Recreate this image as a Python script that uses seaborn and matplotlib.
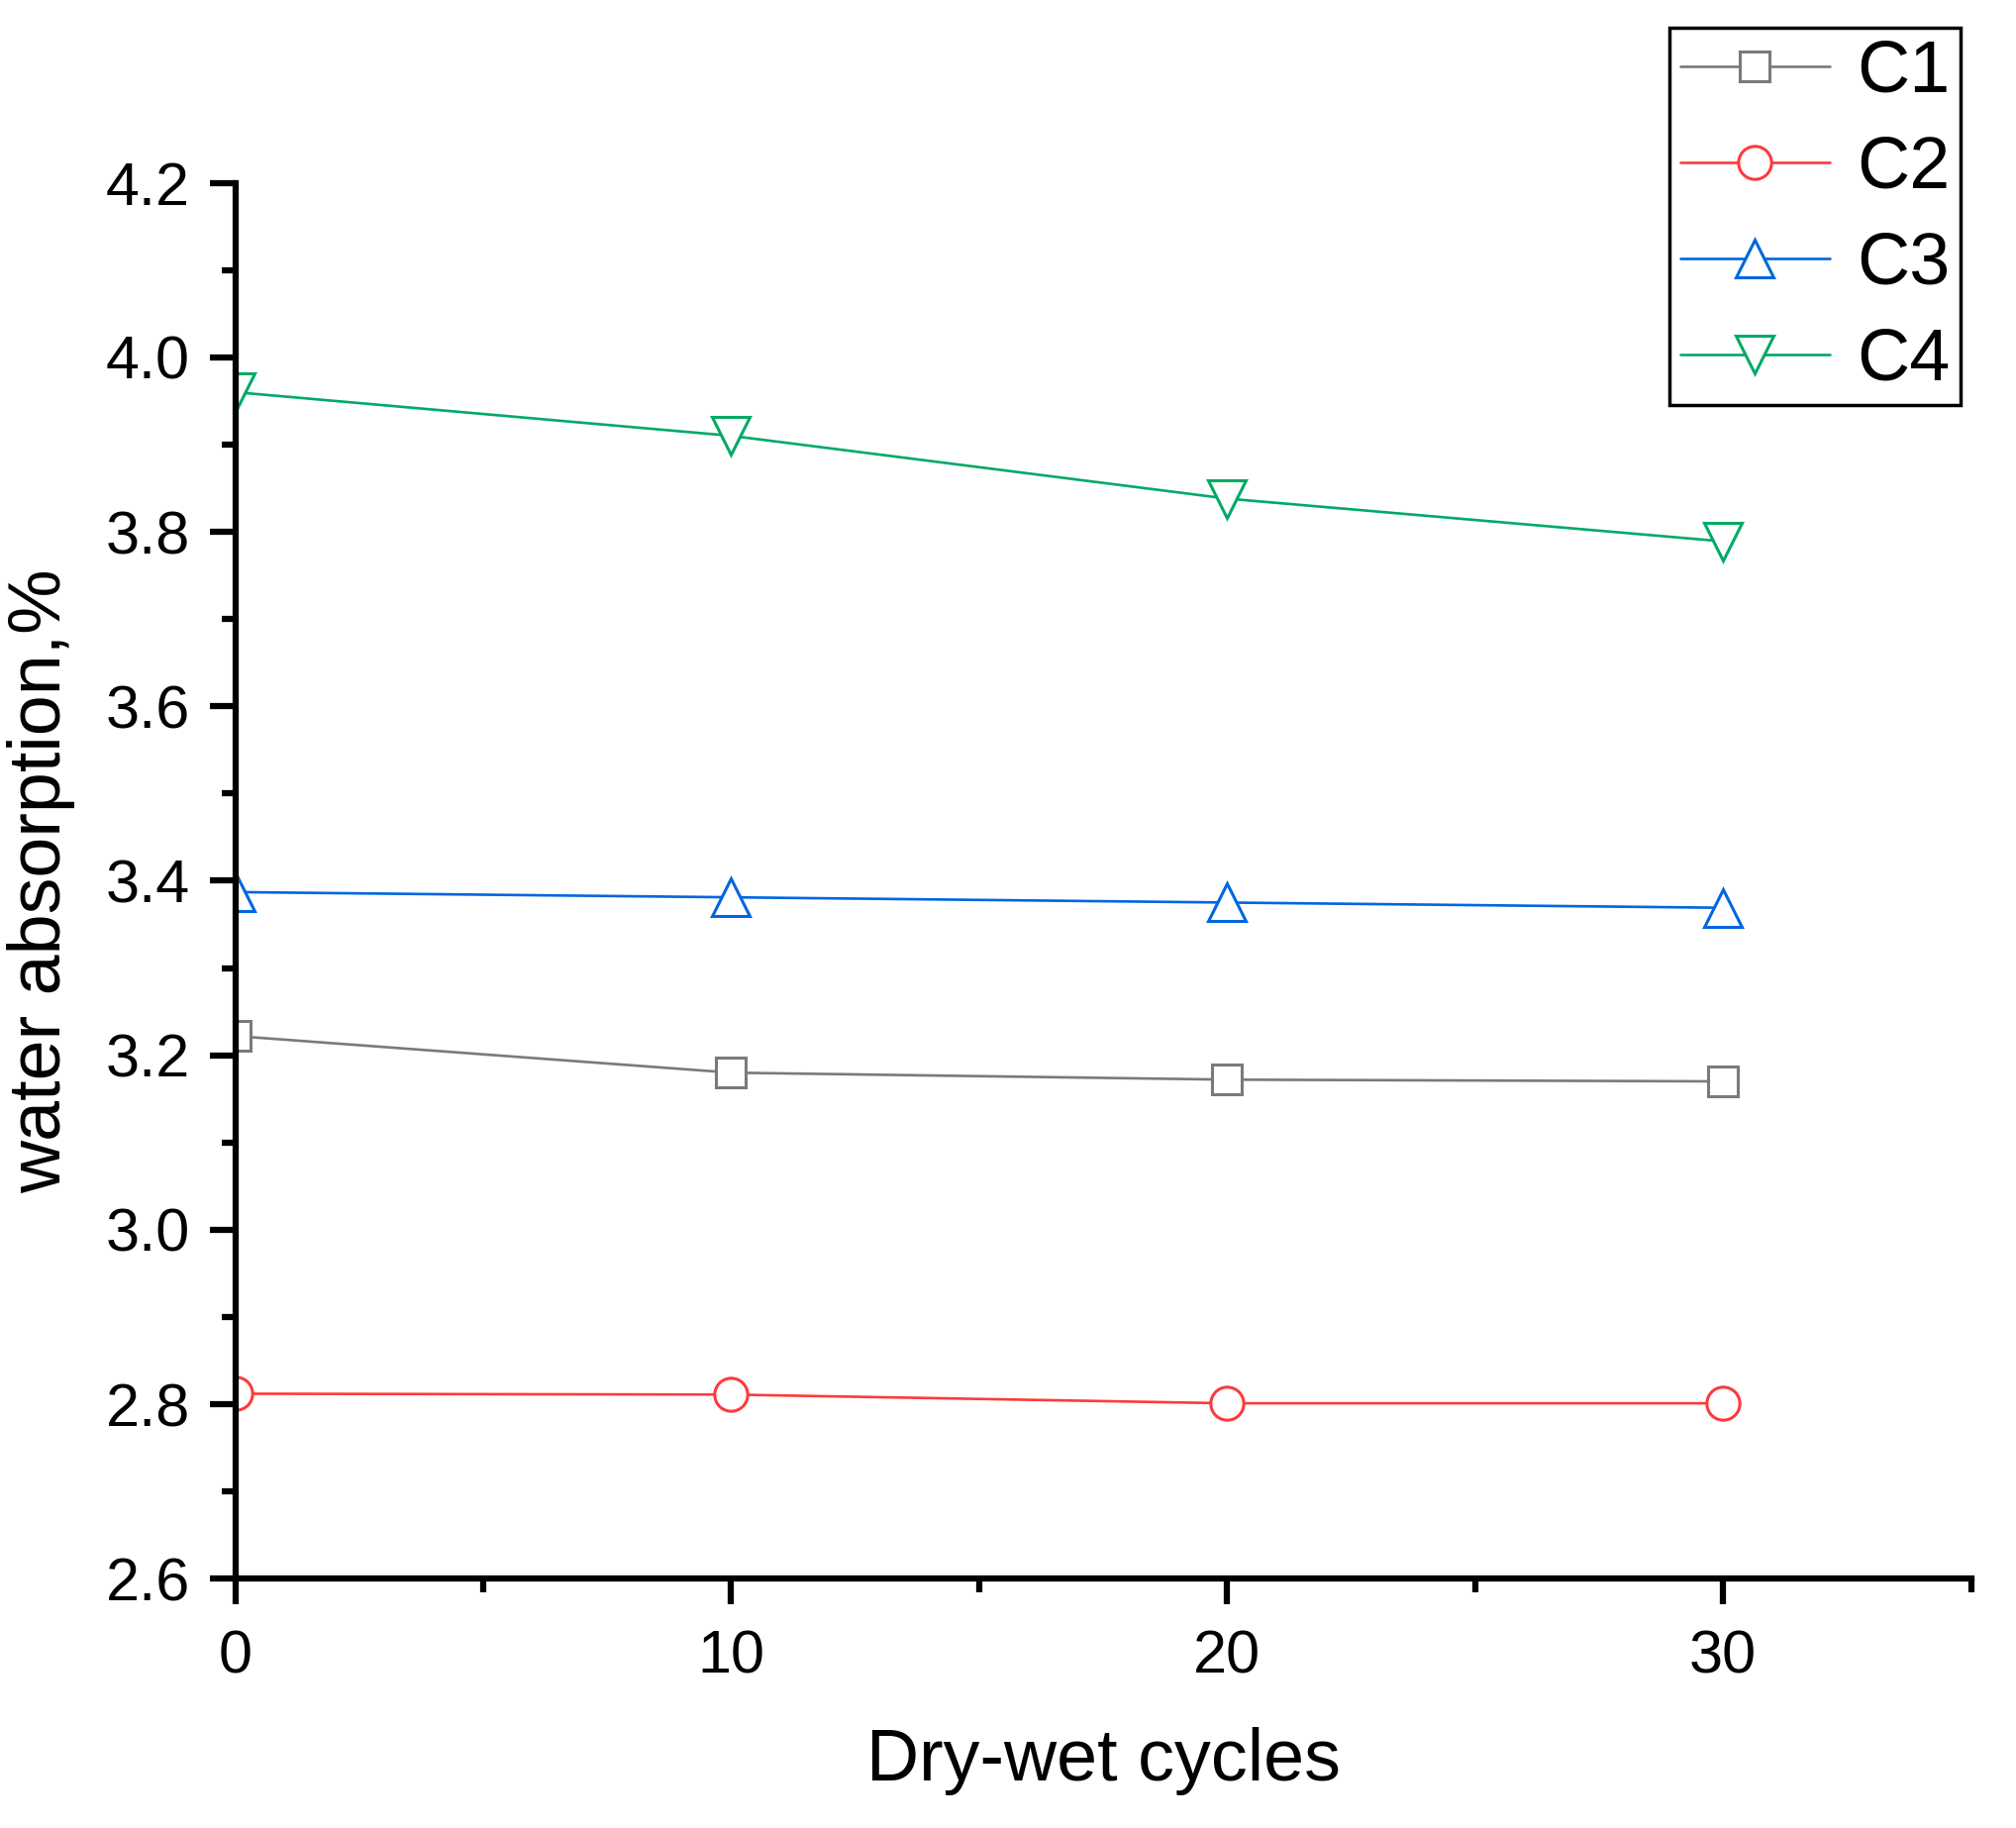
import matplotlib
matplotlib.use("Agg")
import matplotlib.pyplot as plt
import seaborn as sns
import pandas as pd
from matplotlib.ticker import MultipleLocator

cycles = [0, 10, 20, 30]
c1 = [3.222, 3.180, 3.172, 3.170]
c2 = [2.812, 2.811, 2.801, 2.801]
c3 = [3.387, 3.381, 3.375, 3.369]
c4 = [3.960, 3.910, 3.838, 3.789]
names = ["C1", "C2", "C3", "C4"]
colors = ["#7a7a7a", "#ff3a3a", "#0066e0", "#00aa66"]
markers = ["s", "o", "^", "v"]
msizes = [22, 24, 27, 27]

sns.set_style("ticks")
plt.rcParams['font.family'] = ['Liberation Sans', 'DejaVu Sans']
plt.rcParams['text.color'] = 'black'
plt.rcParams['axes.labelcolor'] = 'black'
plt.rcParams['xtick.color'] = 'black'
plt.rcParams['ytick.color'] = 'black'

df = pd.DataFrame({
    "cycles": cycles * 4,
    "value": c1 + c2 + c3 + c4,
    "series": sum([[n] * len(cycles) for n in names], []),
})

fig = plt.figure(figsize=(20.36, 18.46), dpi=100)
ax = fig.add_axes([0.1167, 0.1364, 0.861, 0.7636])

for n, col, mk, ms in zip(names, colors, markers, msizes):
    sub = df[df["series"] == n]
    sns.lineplot(data=sub, x="cycles", y="value", ax=ax, color=col, marker=mk,
                 markersize=ms, markerfacecolor="white",
                 markeredgecolor=col, markeredgewidth=2.2, linewidth=1.9,
                 label=n, clip_on=True)

ax.set_xlim(0, 35)
ax.set_ylim(2.6, 4.2)
ax.xaxis.set_major_locator(MultipleLocator(10))
ax.xaxis.set_minor_locator(MultipleLocator(5))
ax.yaxis.set_major_locator(MultipleLocator(0.2))
ax.yaxis.set_minor_locator(MultipleLocator(0.1))
ax.yaxis.set_major_formatter(matplotlib.ticker.FormatStrFormatter('%.1f'))

for side in ["top", "right"]:
    ax.spines[side].set_visible(False)
for side in ["left", "bottom"]:
    ax.spines[side].set_linewidth(4.5)
    ax.spines[side].set_color("black")

ax.tick_params(axis="both", which="major", direction="out", length=19, width=4.5,
               labelsize=44, pad=14, colors="black")
ax.tick_params(axis="both", which="minor", direction="out", length=10, width=4.5)
ax.tick_params(axis="x", which="major", pad=18)

ax.set_xlabel("Dry-wet cycles", fontsize=53, labelpad=30)
ax.set_ylabel("water absorption,%", fontsize=53, labelpad=22)

leg = ax.legend(loc="upper right", bbox_to_anchor=(0.9726, 0.9848),
                bbox_transform=fig.transFigure, fontsize=53, frameon=True,
                fancybox=False, edgecolor="black", handlelength=2.05,
                handletextpad=0.38, labelspacing=0.38, borderpad=0.14,
                borderaxespad=0)
leg.get_frame().set_linewidth(2.5)
leg.get_frame().set_alpha(1)

fig.savefig("out.png", dpi=100, facecolor="white")
